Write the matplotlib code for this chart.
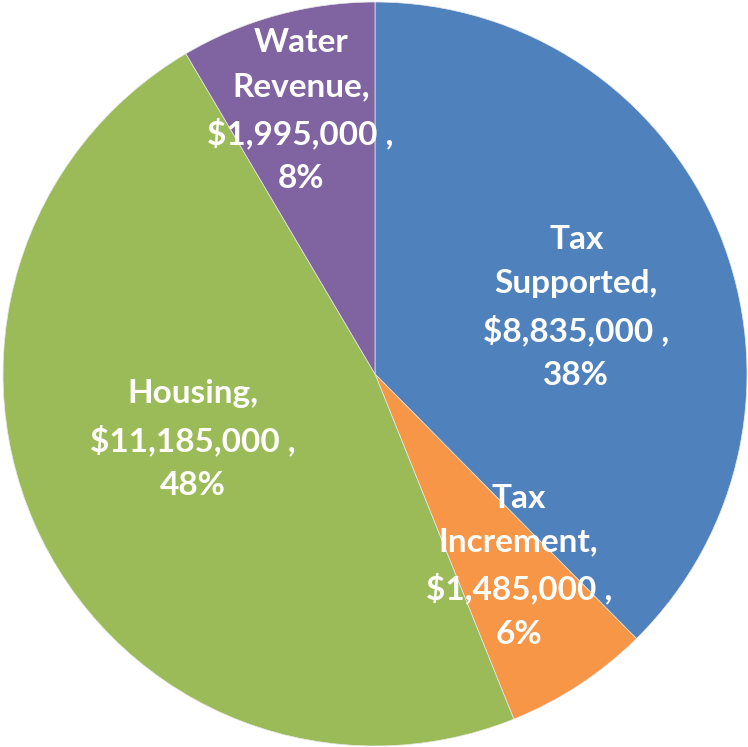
import numpy as np
import matplotlib
matplotlib.use("Agg")
import matplotlib.pyplot as plt

categories = ["Tax\nSupported", "Tax\nIncrement", "Housing", "Water\nRevenue"]
values = [8835000, 1485000, 11185000, 1995000]
colors = ["#4F81BD", "#F79646", "#9BBB59", "#8064A2"]
# radial distance of each label (fraction of radius)
label_r = [0.57, 0.645, 0.52, 0.735]
label_shift = [-4, 3.5, -6.5, 0.5]  # degrees from wedge middle

fig = plt.figure(figsize=(7.48, 7.47), dpi=100)
ax = fig.add_axes([0, 0, 1, 1])
wedges, _ = ax.pie(values, colors=colors, startangle=90, counterclock=False,
                   radius=1.0, wedgeprops=dict(edgecolor="#e8e8e8", linewidth=0.5))

total = sum(values)
for w, name, v, r, sh in zip(wedges, categories, values, label_r, label_shift):
    mid = np.deg2rad((w.theta1 + w.theta2) / 2 + sh)
    pct = round(100 * v / total)
    txt = f"{name},\n${v:,} ,\n{pct}%"
    ax.text(r * np.cos(mid), r * np.sin(mid), txt, ha="center", va="center",
            color="white", fontsize=24, fontweight="bold", family=["Lato", "DejaVu Sans"],
            linespacing=1.62)

ax.set_xlim(-375 / 372, 373 / 372)
ax.set_ylim(-373 / 372, 374 / 372)
ax.set_aspect("equal")
ax.axis("off")
fig.savefig("out.png", dpi=100)
